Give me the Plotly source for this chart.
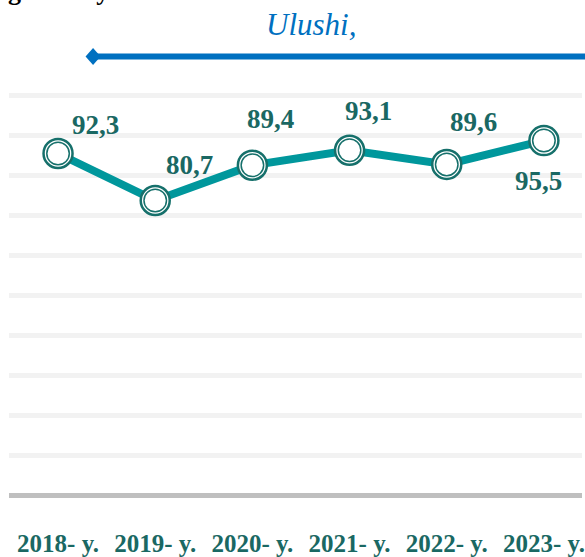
import plotly.graph_objects as go

# ---- data ----
years = ["2018- y.", "2019- y.", "2020- y.", "2021- y.", "2022- y.", "2023- y."]
share = [92.3, 80.7, 89.4, 93.1, 89.6, 95.5]
series_title = "Ulushi,"
top_text = "g`liklar yil"

# ---- style ----
LINE_COLOR = "#00979c"
RING_COLOR = "#16706b"
TEXT_COLOR = "#1a6863"
BLUE = "#0070c0"
SERIF = "Liberation Serif, Times New Roman, serif"

W, H = 585, 557
ML, MR, MT, MB = 9, 0, 68, 55
PLOT_W = W - ML - MR
PLOT_H = H - MT - MB

# label offsets (pixels) relative to each marker
label_shift = [(37, 28), (34, 36), (18, 46), (19, 39), (27, 42), (-5, -40)]

fig = go.Figure()
fig.add_trace(go.Scatter(
    x=years, y=share, mode="lines+markers",
    line=dict(color=LINE_COLOR, width=8),
    marker=dict(size=29, color="white", line=dict(color=RING_COLOR, width=2.5)),
    hoverinfo="skip", showlegend=False,
))
fig.add_trace(go.Scatter(
    x=years, y=share, mode="markers",
    marker=dict(size=22.5, color="white", line=dict(color=RING_COLOR, width=1.5)),
    hoverinfo="skip", showlegend=False,
))

for yr, v, (dx, dy) in zip(years, share, label_shift):
    fig.add_annotation(
        x=yr, y=v, xref="x", yref="y", showarrow=False,
        text=f"{v:.1f}".replace(".", ","),
        xshift=dx, yshift=dy,
        font=dict(family=SERIF, size=27, color=TEXT_COLOR, weight="bold"),
    )

def px_x(p):
    return (p - ML) / PLOT_W

def px_y(p):
    return (H - MB - p) / PLOT_H

# series title
fig.add_annotation(
    x=px_x(313), y=px_y(43), xref="paper", yref="paper",
    xanchor="center", yanchor="bottom", showarrow=False,
    text=f"<i>{series_title}</i>",
    font=dict(family=SERIF, size=31, color=BLUE),
)
# cut-off heading fragment
fig.add_annotation(
    x=px_x(6), y=px_y(7), xref="paper", yref="paper",
    xanchor="left", yanchor="bottom", showarrow=False,
    text=f"<b>{top_text}</b>",
    font=dict(family=SERIF, size=26, color="black"),
)

# legend-like line with diamond
fig.add_shape(type="line", xref="paper", yref="paper",
              x0=px_x(93.5), x1=1.02, y0=px_y(56.3), y1=px_y(56.3),
              line=dict(color=BLUE, width=6))
fig.add_shape(type="path", xref="paper", yref="paper",
              xsizemode="pixel", ysizemode="pixel",
              xanchor=px_x(93.5), yanchor=px_y(56.3),
              path="M -7.5 0 L 0 8.5 L 7.5 0 L 0 -8.5 Z",
              fillcolor=BLUE, line=dict(width=0))

fig.update_layout(
    width=W, height=H,
    margin=dict(l=ML, r=MR, t=MT, b=MB, pad=0),
    paper_bgcolor="white", plot_bgcolor="white",
    showlegend=False,
    xaxis=dict(
        type="category", range=[-0.5047, 5.392],
        showgrid=False, zeroline=False,
        showline=True, linecolor="#bfbfbf", linewidth=5,
        ticks="", tickfont=dict(family=SERIF, size=25, color=TEXT_COLOR, weight="bold"),
        ticklabelstandoff=24,
        fixedrange=True,
    ),
    yaxis=dict(
        range=[8.51, 113.4], tick0=8.01, dtick=9.86,
        showgrid=True, gridcolor="#f2f2f2", gridwidth=5,
        zeroline=False, showline=False, showticklabels=False, ticks="",
        fixedrange=True,
    ),
)

fig.write_html(
    "out.html",
    config={"displayModeBar": False},
    post_script="document.body.style.margin='0';document.body.style.overflow='hidden';",
)
